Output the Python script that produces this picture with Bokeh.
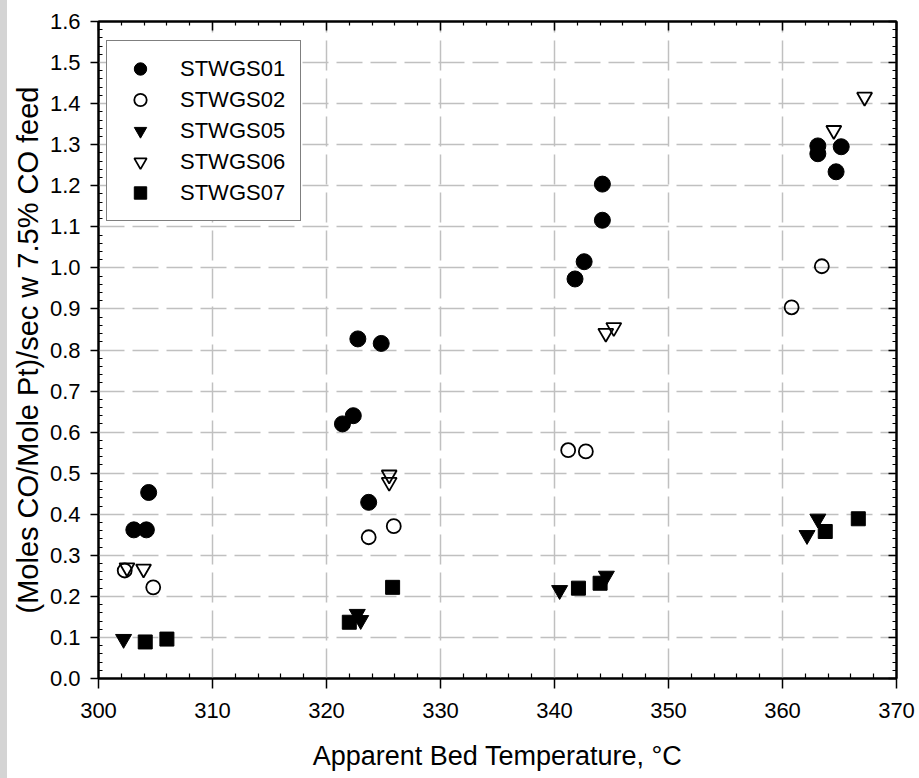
from bokeh.plotting import figure
from bokeh.models import Range1d, FixedTicker, LinearAxis, Legend, LegendItem, Spacer
from bokeh.layouts import row
from bokeh.embed import file_html
from bokeh.resources import INLINE

# ---------------- data ----------------
s01_x = [304.4, 303.1, 304.2, 321.4, 322.35, 322.75, 324.8, 323.7, 344.2, 344.2, 342.6, 341.8, 363.1, 363.1, 365.15, 364.7]
s01_y = [0.453, 0.362, 0.362, 0.620, 0.640, 0.827, 0.816, 0.429, 1.204, 1.116, 1.015, 0.973, 1.297, 1.278, 1.295, 1.234]

s02_x = [302.3, 304.8, 323.7, 325.9, 341.2, 342.75, 360.8, 363.45]
s02_y = [0.263, 0.222, 0.344, 0.371, 0.556, 0.553, 0.904, 1.004]

s05_x = [302.2, 322.7, 323.0, 340.45, 344.55, 362.15, 363.1]
s05_y = [0.096, 0.157, 0.142, 0.215, 0.250, 0.349, 0.389]

s06_x = [302.5, 303.95, 325.5, 325.5, 344.5, 345.2, 364.5, 367.2]
s06_y = [0.270, 0.267, 0.496, 0.478, 0.841, 0.855, 1.335, 1.416]

s07_x = [304.1, 306.0, 322.0, 325.8, 342.1, 344.0, 363.75, 366.65]
s07_y = [0.089, 0.096, 0.137, 0.222, 0.220, 0.232, 0.358, 0.389]

series_names = ["STWGS01", "STWGS02", "STWGS05", "STWGS06", "STWGS07"]

x_ticks = [300, 310, 320, 330, 340, 350, 360, 370]
x_tick_labels = ["300", "310", "320", "330", "340", "350", "360", "370"]
y_ticks = [0.0, 0.1, 0.2, 0.3, 0.4, 0.5, 0.6, 0.7, 0.8, 0.9, 1.0, 1.1, 1.2, 1.3, 1.4, 1.5, 1.6]
y_tick_labels = ["0.0", "0.1", "0.2", "0.3", "0.4", "0.5", "0.6", "0.7", "0.8",
                 "0.9", "1.0", "1.1", "1.2", "1.3", "1.4", "1.5", "1.6"]

x_label = "Apparent Bed Temperature, \u00b0C"
y_label = "(Moles CO/Mole Pt)/sec w 7.5% CO feed"

FONT = "Liberation Sans"

x_minor = [x_ticks[0] + 2 * i for i in range(1, 35) if (2 * i) % 10 != 0]
y_minor = [round(0.02 * i, 2) for i in range(1, 80) if i % 5 != 0]

# ---------------- figure ----------------
p = figure(width=912, height=778, output_backend="svg", toolbar_location=None,
           x_range=Range1d(300, 370), y_range=Range1d(0, 1.6),
           min_border_left=91, min_border_right=23, min_border_top=21, min_border_bottom=100,
           background_fill_color="white", border_fill_color="white")

p.outline_line_color = "black"
p.outline_line_width = 2

xt = FixedTicker(ticks=x_ticks, minor_ticks=x_minor)
yt = FixedTicker(ticks=y_ticks, minor_ticks=y_minor)

xa = p.xaxis[0]
xa.ticker = xt
xa.major_label_overrides = {t: l for t, l in zip(x_ticks, x_tick_labels)}
xa.axis_label = x_label
ya = p.yaxis[0]
ya.ticker = yt
ya.major_label_overrides = {t: l for t, l in zip(y_ticks, y_tick_labels)}
ya.axis_label = y_label

for ax in (xa, ya):
    ax.axis_line_color = "black"
    ax.axis_line_width = 2
    ax.major_tick_line_color = "black"
    ax.minor_tick_line_color = "black"
    ax.major_tick_line_width = 1.5
    ax.minor_tick_line_width = 1.2
    ax.major_tick_in = 0
    ax.minor_tick_out = 0
    ax.minor_tick_in = 5
    ax.major_label_text_font = FONT
    ax.major_label_text_font_size = "22px"
    ax.major_label_text_color = "black"
    ax.axis_label_text_font = FONT
    ax.axis_label_text_font_style = "normal"
    ax.axis_label_text_color = "black"

xa.major_tick_out = 10
xa.major_label_standoff = 14
xa.axis_label_text_font_size = "27px"
xa.axis_label_standoff = 20
ya.major_tick_out = 8
ya.minor_tick_in = 4
ya.major_label_standoff = 10
ya.axis_label_text_font_size = "29px"
ya.axis_label_standoff = 3

# top and right axes: ticks only
top = LinearAxis(ticker=FixedTicker(ticks=x_ticks, minor_ticks=x_minor),
                 major_label_overrides={t: "" for t in x_ticks})
right = LinearAxis(ticker=FixedTicker(ticks=y_ticks, minor_ticks=y_minor),
                   major_label_overrides={t: "" for t in y_ticks})
for ax, tin in ((top, 9), (right, 8)):
    ax.axis_line_color = "black"
    ax.axis_line_width = 2
    ax.major_tick_line_color = "black"
    ax.minor_tick_line_color = "black"
    ax.major_tick_line_width = 1.5
    ax.minor_tick_line_width = 1.2
    ax.major_tick_in = tin
    ax.major_tick_out = 0
    ax.minor_tick_in = 4
    ax.minor_tick_out = 0
    ax.major_label_text_font_size = "0px"
    ax.major_label_standoff = 0
p.add_layout(top, "above")
p.add_layout(right, "right")

# grids
p.xgrid.grid_line_color = "#c0c0c0"
p.xgrid.grid_line_width = 1.5
p.xgrid.grid_line_dash = "30 8"
p.xgrid.ticker = xt
p.ygrid.grid_line_color = "#c0c0c0"
p.ygrid.grid_line_width = 1.5
p.ygrid.grid_line_dash = "26 8"
p.ygrid.ticker = yt

# markers
r1 = p.scatter(s01_x, s01_y, marker="circle", size=16, fill_color="black", line_color="black", line_width=1)
r2 = p.scatter(s02_x, s02_y, marker="circle", size=14, fill_color=None, line_color="black", line_width=1.8)
r3 = p.scatter(s05_x, s05_y, marker="inverted_triangle", size=16, fill_color="black", line_color="black", line_width=1)
r4 = p.scatter(s06_x, s06_y, marker="inverted_triangle", size=15, fill_color=None, line_color="black", line_width=1.8)
r5 = p.scatter(s07_x, s07_y, marker="square", size=14, fill_color="black", line_color="black", line_width=1)

legend = Legend(
    items=[LegendItem(label=n, renderers=[r]) for n, r in zip(series_names, [r1, r2, r3, r4, r5])],
    location=(8, 457), margin=0,
    glyph_width=42, glyph_height=31, label_height=31, spacing=0, padding=12,
    label_standoff=19, label_width=108,
    label_text_font=FONT, label_text_font_size="22px", label_text_color="black",
    border_line_color="black", border_line_width=1.5,
    background_fill_color="white", background_fill_alpha=1.0,
)
p.add_layout(legend)

strip = Spacer(width=7, height=778, styles={"background-color": "#d4d4d4"})
layout = row(strip, p, spacing=0)

open("out.html", "w").write(file_html(layout, INLINE))
